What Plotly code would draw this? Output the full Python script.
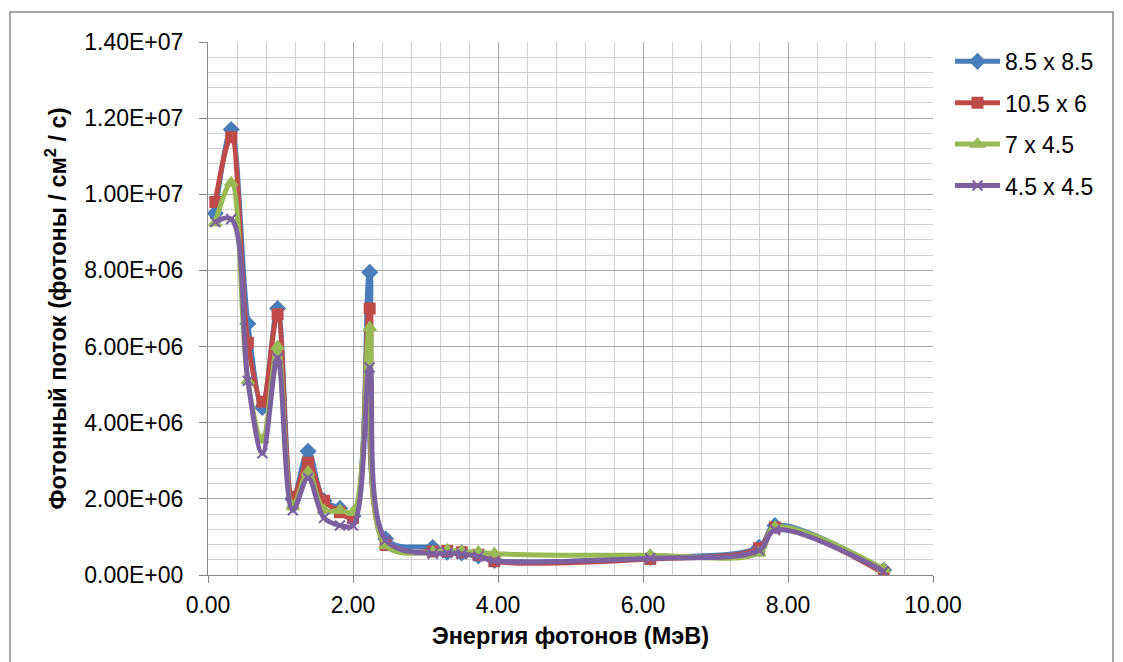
import plotly.graph_objects as go

# Photon energy, MeV
energy = [0.10, 0.32, 0.55, 0.75, 0.96, 1.17, 1.38, 1.60, 1.82, 2.00, 2.23,
          2.45, 3.10, 3.30, 3.50, 3.73, 3.95, 6.10, 7.60, 7.82, 9.32]

# Photon flux for each field size, photons / cm^2 / s
flux_85x85 = [9.5e6, 1.17e7, 6.6e6, 4.4e6, 7.0e6, 2.0e6, 3.25e6, 1.95e6, 1.75e6, 1.55e6, 7.95e6,
              9.5e5, 7.2e5, 6.0e5, 5.8e5, 5.0e5, 3.8e5, 4.6e5, 7.3e5, 1.3e6, 1.3e5]
flux_105x6 = [9.8e6, 1.15e7, 6.1e6, 4.55e6, 6.85e6, 2.05e6, 2.95e6, 1.95e6, 1.65e6, 1.5e6, 7.0e6,
              7.9e5, 6.2e5, 6.3e5, 6.0e5, 5.3e5, 3.6e5, 4.2e5, 7.0e5, 1.25e6, 5.0e4]
flux_7x45 = [9.25e6, 1.03e7, 5.1e6, 3.55e6, 6.0e6, 1.8e6, 2.7e6, 1.7e6, 1.7e6, 1.65e6, 6.5e6,
             7.8e5, 6.0e5, 6.5e5, 6.2e5, 6.0e5, 5.6e5, 5.2e5, 5.8e5, 1.25e6, 1.6e5]
flux_45x45 = [9.27e6, 9.35e6, 5.1e6, 3.2e6, 5.7e6, 1.7e6, 2.55e6, 1.5e6, 1.3e6, 1.3e6, 5.45e6,
              9.2e5, 5.6e5, 5.8e5, 5.5e5, 4.9e5, 3.7e5, 4.4e5, 6.5e5, 1.18e6, 1.0e5]

series_names = ["8.5 x 8.5", "10.5 x 6", "7 x 4.5", "4.5 x 4.5"]

y_tick_values = [0, 2e6, 4e6, 6e6, 8e6, 1e7, 1.2e7, 1.4e7]
y_tick_labels = ["0.00E+00", "2.00E+06", "4.00E+06", "6.00E+06",
                 "8.00E+06", "1.00E+07", "1.20E+07", "1.40E+07"]

FONT = "Arial, Liberation Sans, sans-serif"
TICK_SIZE = 23
TITLE_SIZE = 23.5
styles = [
    ("#4A7EBB", "diamond", 11),
    ("#BE4B48", "square", 10),
    ("#98B954", "triangle-up", 11),
    ("#7D60A0", "x-thin-open", 10),
]

fig = go.Figure()
for i, (name, ys) in enumerate(zip(series_names, [flux_85x85, flux_105x6, flux_7x45, flux_45x45])):
    color, symbol, size = styles[i]
    fig.add_trace(go.Scatter(
        x=energy, y=ys, name=name, mode="lines+markers",
        legendgroup=f"g{i}",
        line=dict(color=color, width=5, shape="spline", smoothing=1.0),
        marker=dict(color=color, symbol=symbol, size=size,
                    line=dict(color=color, width=2)),
    ))

W, H = 1123, 662
L, R, T, B = 208, 933, 42, 575
pw, ph = R - L, B - T

fig.update_layout(
    width=W, height=H,
    margin=dict(l=L, r=W - R, t=T, b=H - B, autoexpand=False),
    paper_bgcolor="white", plot_bgcolor="white",
    font=dict(family=FONT, size=TICK_SIZE, color="#000000"),
    showlegend=True,
    legend=dict(x=(950 - L) / pw, y=1.004, xanchor="left", yanchor="top",
                font=dict(family=FONT, size=TICK_SIZE, color="#000000"),
                itemwidth=45, tracegroupgap=8.5, bgcolor="rgba(0,0,0,0)"),
    xaxis=dict(
        range=[0, 10], dtick=2, tickformat=".2f",
        showgrid=True, gridcolor="#A6A6A6", gridwidth=1,
        minor=dict(dtick=0.4, showgrid=True, gridcolor="#D0D0D0", gridwidth=1),
        showline=True, linecolor="#868686", linewidth=1,
        ticks="outside", ticklen=7, tickcolor="#868686",
        ticklabelstandoff=2,
        zeroline=False,
        tickfont=dict(family=FONT, size=TICK_SIZE, color="#000000"),
        title=dict(text="<b>Энергия фотонов (МэВ)</b>",
                   font=dict(family=FONT, size=TITLE_SIZE, color="#000000"), standoff=10),
    ),
    yaxis=dict(
        range=[0, 1.4e7], tickvals=y_tick_values, ticktext=y_tick_labels,
        showgrid=True, gridcolor="#A6A6A6", gridwidth=1,
        minor=dict(dtick=4e5, showgrid=True, gridcolor="#D0D0D0", gridwidth=1),
        showline=True, linecolor="#868686", linewidth=1,
        ticks="outside", ticklen=8, tickcolor="#868686",
        ticklabelstandoff=11,
        zeroline=False,
        tickfont=dict(family=FONT, size=TICK_SIZE, color="#000000"),
        title=dict(text="<b>Фотонный поток (фотоны / см<sup>2</sup> / с)</b>",
                   font=dict(family=FONT, size=TITLE_SIZE, color="#000000"), standoff=11),
    ),
)

# Chart-area frame
fig.add_shape(type="rect", xref="paper", yref="paper",
              x0=(10 - L) / pw, x1=(1113 - L) / pw,
              y0=(B - 664) / ph, y1=(B - 12) / ph,
              line=dict(color="#868686", width=1.5), fillcolor="rgba(0,0,0,0)",
              layer="below")

fig.write_html("out.html")
